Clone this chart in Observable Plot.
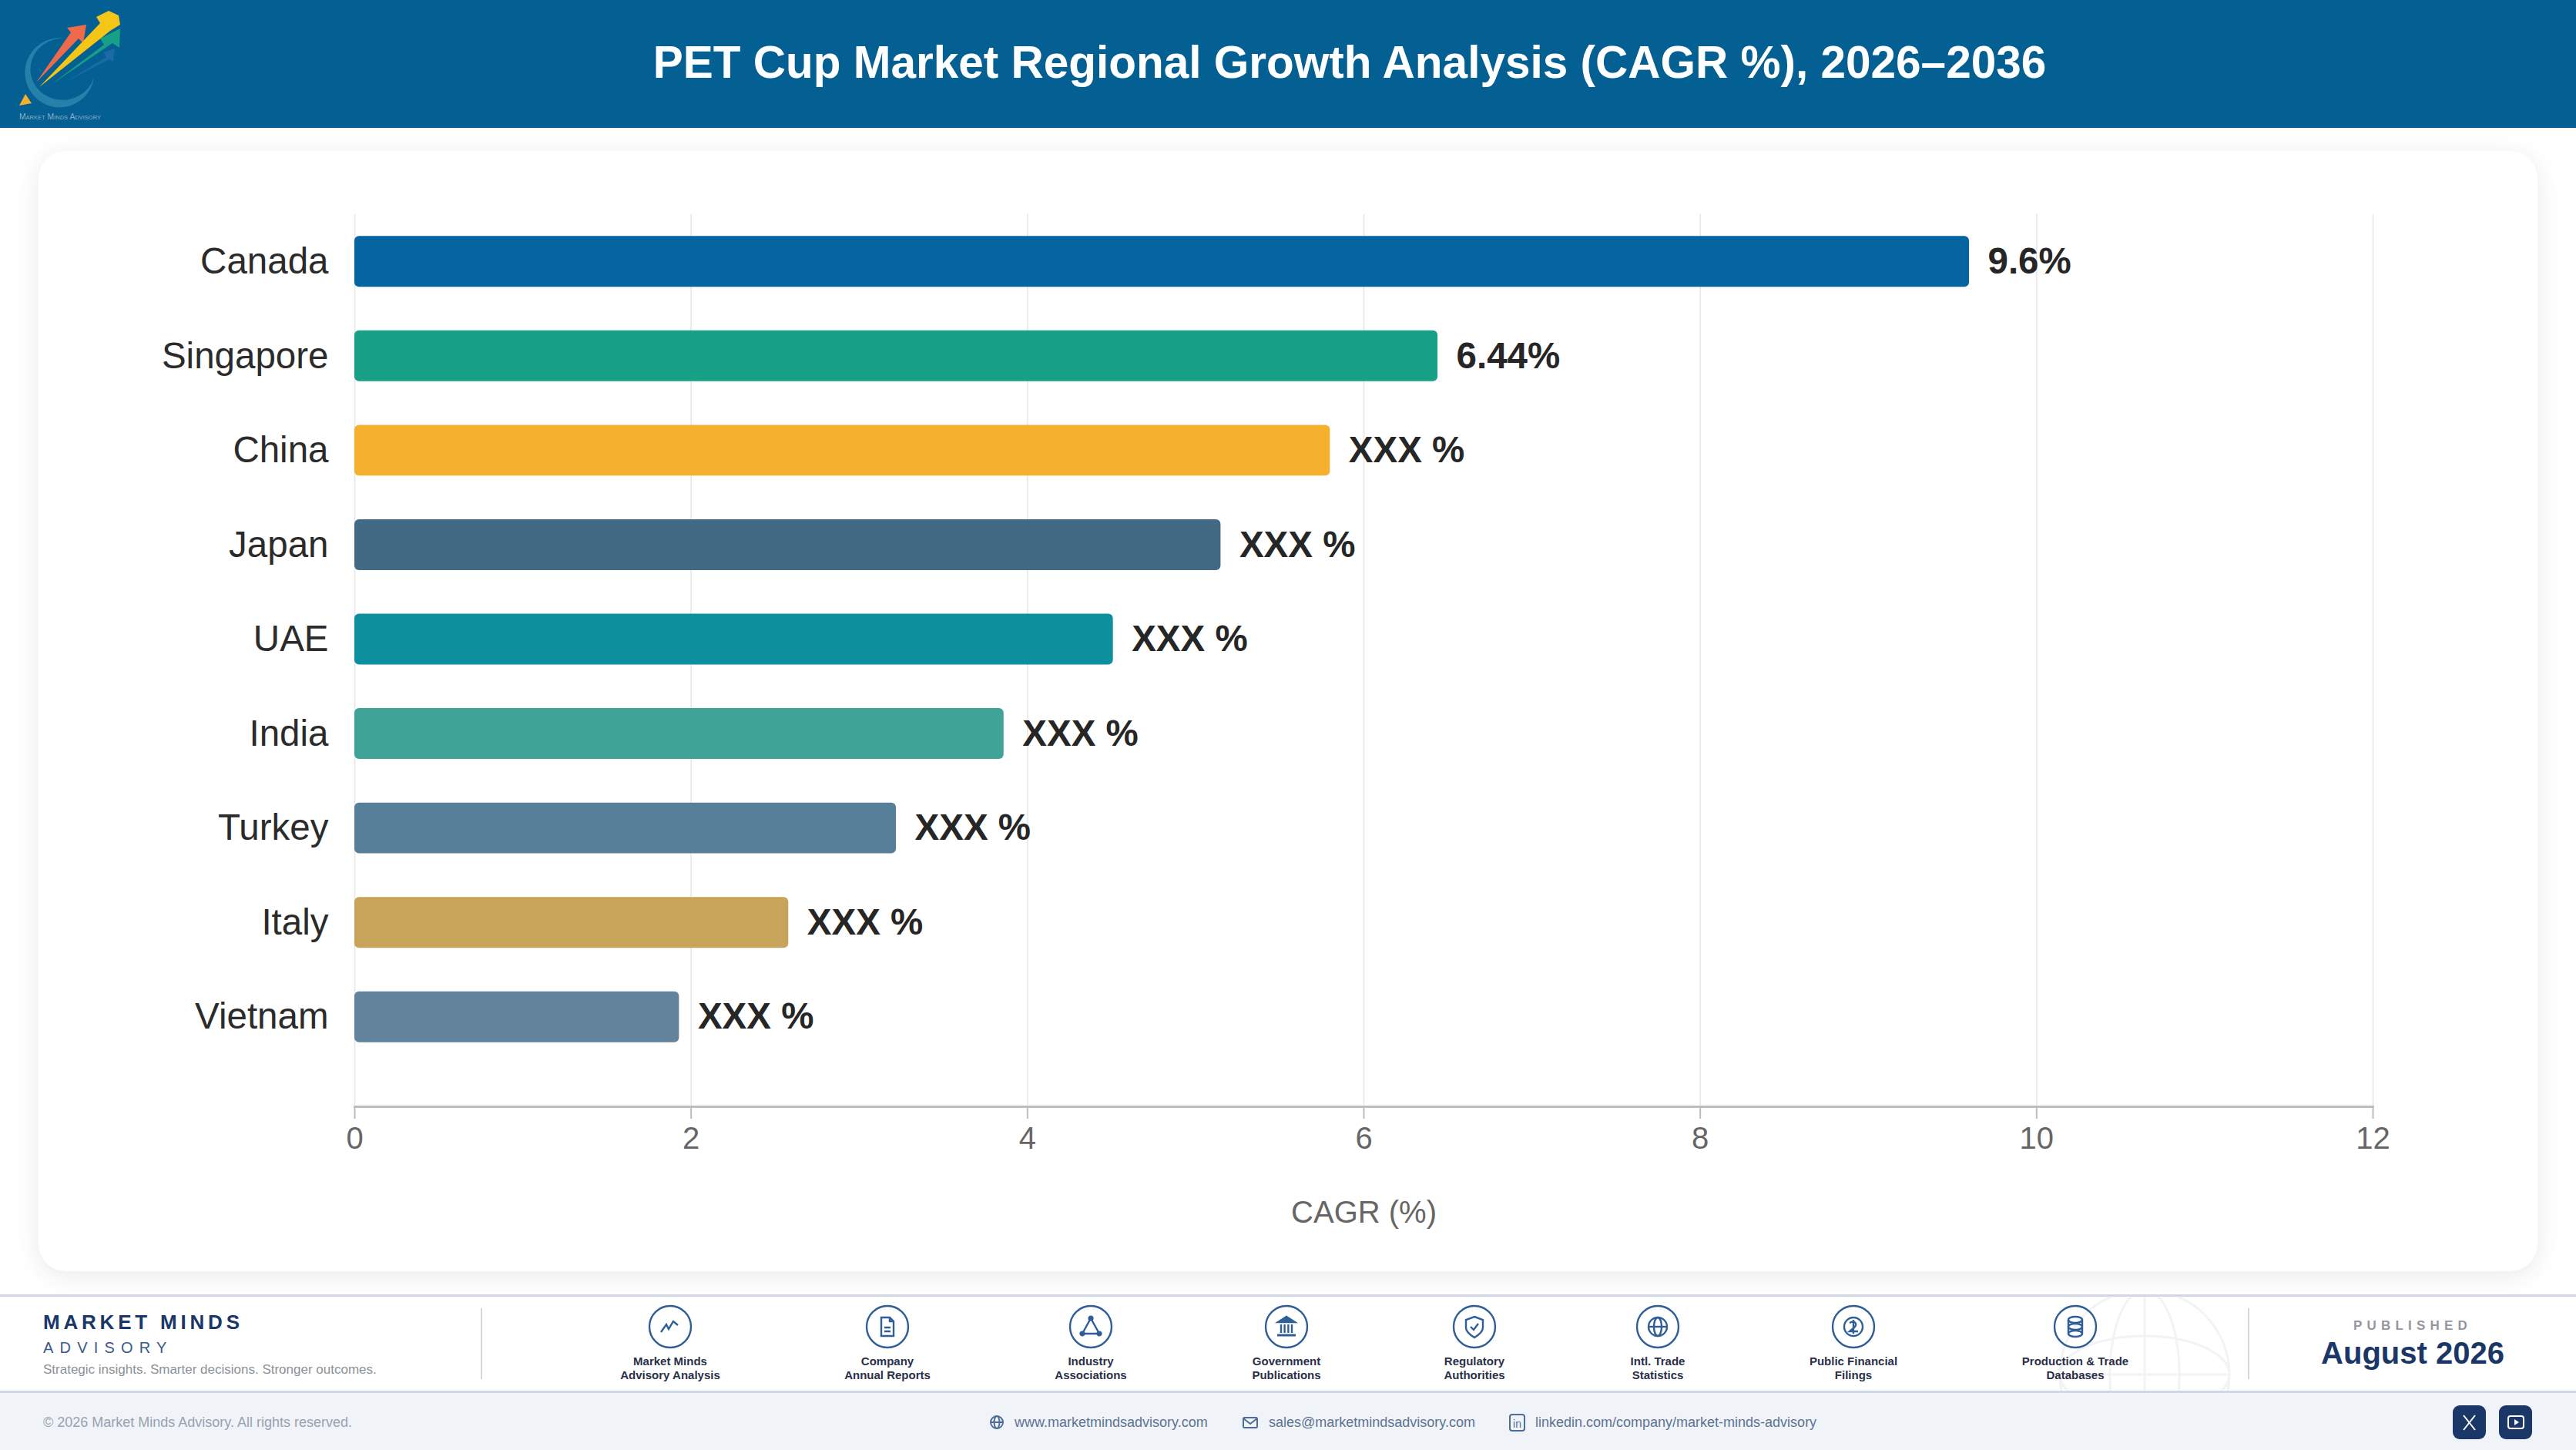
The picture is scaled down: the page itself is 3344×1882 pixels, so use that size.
<!DOCTYPE html>
<html lang="en">
<head>
<meta charset="utf-8">
<title>PET Cup Market Regional Growth Analysis</title>
<script src="https://cdn.jsdelivr.net/npm/d3@7"></script>
<script src="https://cdn.jsdelivr.net/npm/@observablehq/plot@0.6"></script>
<style>
  html, body { margin: 0; padding: 0; background: #fff; }
  body { font-family: "Liberation Sans", Arial, sans-serif; }
  #page { position: relative; width: 3344px; height: 1882px; overflow: hidden; background: #fff; }
  #page > * { position: absolute; }
  .t { white-space: nowrap; line-height: 1; }
  #header { left: 0; top: 0; width: 3344px; height: 166px; background: #045f92; }
  #logo { left: 0; top: 0; }
  #title { left: 1752px; top: 81px; transform: translate(-50%, -50%); color: #fff; font-weight: 700; font-size: 58.5px; }
  #card { left: 50px; top: 196px; width: 3244px; height: 1454px; background: #fff; border-radius: 36px; box-shadow: 0 6px 30px rgba(40,50,60,.10); }
  #chart { left: 50px; top: 196px; }
  #band { left: 0; top: 1680px; width: 3344px; height: 128px; background: #fff; border-top: 3px solid #d3d7e4; border-bottom: 3px solid #d0d8e6; box-sizing: border-box; }
  #strip { left: 0; top: 1808px; width: 3344px; height: 74px; background: #f0f4f9; }
  #globe { left: 0; top: 1683px; }
  .div { width: 2px; top: 1698px; height: 92px; background: #d3d6dc; }
  .src { transform: translateX(-50%); top: 1758px; text-align: center; font-weight: 700; font-size: 15px; line-height: 18px; color: #2a3048; white-space: nowrap; }
  .ico { left: 0; top: 0; }
  .lnk { top: 1846px; transform: translateY(-50%); font-size: 18px; color: #5d7391; }
  .btn { top: 1824px; width: 43px; height: 44px; border-radius: 9px; background: #1a3768; }
</style>
</head>
<body>
<div id="page">
  <div id="header"></div>
  <svg id="logo" width="170" height="166" viewBox="0 0 170 166">
    <path d="M85 50 A45 45 0 1 0 122 100 A42 40 0 1 1 85 50 Z" fill="#2a84ad" opacity=".9"/>
    <path d="M84 107 L138 74 L134 68 L149 63 L147 80 L142 77 Z" fill="#1a6aa5"/>
    <path d="M66 110 L135 58 L130 50 L156 37 L155 62 L146 56 Z" fill="#17a085"/>
    <path d="M47 107 L92 42 L87 36 L112 32 L108 56 L102 50 Z" fill="#ee6a4a"/>
    <path d="M51 113 L130 30 L125 22 L141 14 L154 20 L156 32 L143 40 Z" fill="#f5c518"/>
    <path d="M33 122 L25 137 L41 134 Z" fill="#f5b02e"/>
    <text x="25" y="155" font-family="Liberation Sans" font-size="11" font-variant="small-caps" textLength="106" lengthAdjust="spacingAndGlyphs" fill="#8ab0c8">Market Minds Advisory</text>
  </svg>
  <div id="title" class="t">PET Cup Market Regional Growth Analysis (CAGR %), 2026–2036</div>
  <div id="card"></div>
  <div id="chart"></div>

  <div id="band"></div>
  <div id="strip"></div>
  <svg id="globe" width="3344" height="122" fill="none" stroke="#f2f3f5" stroke-width="3">
    <circle cx="2784" cy="101" r="110"/>
    <ellipse cx="2784" cy="101" rx="45" ry="110"/>
    <path d="M2784 -9 V211 M2674 101 H2894"/>
    <ellipse cx="2784" cy="101" rx="110" ry="50"/>
  </svg>

  <div class="t" style="left:56px;top:1703px;font-size:26px;font-weight:700;letter-spacing:4.8px;color:#1a3768">MARKET MINDS</div>
  <div class="t" style="left:56px;top:1739px;font-size:20px;letter-spacing:8.2px;color:#3b5a8a">ADVISORY</div>
  <div class="t" style="left:56px;top:1769px;font-size:17px;color:#8b9199">Strategic insights. Smarter decisions. Stronger outcomes.</div>
  <div class="div" style="left:624px"></div>
  <div class="div" style="left:2918px"></div>
  <div class="t" style="left:3132px;top:1712px;transform:translateX(-50%);font-size:17px;font-weight:700;letter-spacing:6.2px;color:#94979f">PUBLISHED</div>
  <div class="t" style="left:3132px;top:1736px;transform:translateX(-50%);font-size:40px;font-weight:700;color:#1a3768">August 2026</div>

  <div class="t" style="left:56px;top:1846px;transform:translateY(-50%);font-size:18px;color:#98a2b0">© 2026 Market Minds Advisory. All rights reserved.</div>
  <svg class="ico" width="3344" height="1882" fill="none" stroke="#4f6d94" stroke-width="2" style="pointer-events:none">
    <circle cx="1294" cy="1846" r="8"/><ellipse cx="1294" cy="1846" rx="3.5" ry="8"/><path d="M1286 1846 H1302"/>
    <rect x="1614" y="1840" width="18" height="13" rx="1.5"/><path d="M1614 1841 L1623 1848 L1632 1841"/>
    <rect x="1960" y="1836" width="19" height="21" rx="3"/>
    <text x="1969.5" y="1853" text-anchor="middle" font-family="Liberation Sans" font-size="14" fill="#4f6d94" stroke="none">in</text>
  </svg>
  <div class="t lnk" style="left:1317px">www.marketmindsadvisory.com</div>
  <div class="t lnk" style="left:1647px">sales@marketmindsadvisory.com</div>
  <div class="t lnk" style="left:1993px">linkedin.com/company/market-minds-advisory</div>
  <div class="btn" style="left:3184px"></div>
  <div class="btn" style="left:3244px"></div>
  <svg class="ico" width="3344" height="1882" fill="none" stroke="#fff" stroke-width="2" style="pointer-events:none">
    <path d="M3198 1837 L3213 1856 M3213 1837 L3198 1856"/>
    <rect x="3256" y="1838" width="20" height="16" rx="3"/><path d="M3264 1842 L3270 1846 L3264 1850 Z" fill="#fff" stroke="none"/>
  </svg>
</div>

<script>
// --- chart values ---
const regions = ["Canada", "Singapore", "China", "Japan", "UAE", "India", "Turkey", "Italy", "Vietnam"];
const cagr = [9.6, 6.44, 5.8, 5.15, 4.51, 3.86, 3.22, 2.58, 1.93];
const valueLabels = ["9.6%", "6.44%", "XXX %", "XXX %", "XXX %", "XXX %", "XXX %", "XXX %", "XXX %"];
const barColors = ["#0565a0", "#17a085", "#f5b02e", "#436a85", "#0d8f9e", "#3fa398", "#577f99", "#c8a45a", "#62839b"];
const xTicks = [0, 2, 4, 6, 8, 10, 12];

// --- footer content ---
const sourceLabels = [
  ["Market Minds", "Advisory Analysis"], ["Company", "Annual Reports"], ["Industry", "Associations"],
  ["Government", "Publications"], ["Regulatory", "Authorities"], ["Intl. Trade", "Statistics"],
  ["Public Financial", "Filings"], ["Production & Trade", "Databases"]
];
const sourceCenters = [870, 1152, 1416, 1670, 1914, 2152, 2406, 2694];
const sourceGlyphs = [
  '<path d="M-12 7 L-5 -3 L-2 3 L4 -7 L10 -2"/>',
  '<path d="M-8 -12 H3 L8 -7 V12 H-8 Z M3 -12 V-7 H8 M-4 1 H4 M-4 6 H4"/>',
  '<path d="M0 -11 L11 9 H-11 Z"/><circle cx="0" cy="-11" r="2.4" fill="#2f5f96"/><circle cx="-11" cy="9" r="2.4" fill="#2f5f96"/><circle cx="11" cy="9" r="2.4" fill="#2f5f96"/>',
  '<path d="M-11 -6 L0 -13 L11 -6 Z" fill="#2f5f96"/><path d="M-7 -3 V8 M-2.4 -3 V8 M2.4 -3 V8 M7 -3 V8"/><path d="M-12 11 H12" stroke-width="3"/>',
  '<path d="M0 -13 L11 -9 V1 C11 7 5 11 0 14 C-5 11 -11 7 -11 1 V-9 Z M-5 0 L-1 4 L5 -4"/>',
  '<circle cx="0" cy="0" r="12"/><ellipse cx="0" cy="0" rx="5" ry="12"/><path d="M-12 0 H12"/>',
  '<circle cx="0" cy="0" r="12"/><path d="M-5 -5 C2 -9 6 -3 1 1 L-5 6 H6 M0 -9 V9"/>',
  '<ellipse cx="0" cy="-9" rx="9" ry="4"/><ellipse cx="0" cy="0" rx="9" ry="4"/><ellipse cx="0" cy="9" rx="9" ry="4"/><path d="M-9 -9 V9 M9 -9 V9"/>'
];

// --- the chart ---
const rows = regions.map((region, i) => ({region, value: cagr[i], label: valueLabels[i], color: barColors[i]}));
const font = '"Liberation Sans", Arial, sans-serif';

const chart = Plot.plot({
  width: 3244,
  height: 1454,
  marginLeft: 410,
  marginRight: 214,
  marginTop: 82,
  marginBottom: 214,
  style: {fontFamily: font, background: "transparent", overflow: "visible"},
  x: {domain: [0, 12], ticks: xTicks},
  y: {domain: regions, paddingInner: 0.462, paddingOuter: 0.231, insetBottom: 55, round: false},
  marks: [
    Plot.gridX(xTicks, {stroke: "#e6e6e8", strokeOpacity: 1, strokeWidth: 1.5}),
    Plot.frame({anchor: "bottom", stroke: "#bdbdbd", strokeWidth: 3}),
    Plot.axisX(xTicks, {
      tickSize: 16, tickPadding: 10, fontSize: 40, stroke: "#bdbdbd", strokeWidth: 2, fill: "#666",
      tickFormat: "d",
      label: "CAGR (%)", labelAnchor: "center", labelArrow: "none", labelOffset: 150
    }),
    Plot.axisY({tickSize: 0, tickPadding: 34, fontSize: 47.5, fill: "#2b2b2b", label: null}),
    Plot.barX(rows, {x: "value", y: "region", fill: "color", rx: 6}),
    Plot.text(rows, {x: "value", y: "region", text: "label", textAnchor: "start", dx: 24, fontSize: 47.5, fontWeight: 700, fill: "#262626"})
  ]
});
document.getElementById("chart").append(chart);

// --- source badges ---
const page = document.getElementById("page");
const NS = "http://www.w3.org/2000/svg";
const iconLayer = document.createElementNS(NS, "svg");
iconLayer.setAttribute("class", "ico");
iconLayer.setAttribute("width", 3344);
iconLayer.setAttribute("height", 1882);
iconLayer.setAttribute("fill", "none");
iconLayer.setAttribute("stroke", "#2f5f96");
iconLayer.setAttribute("stroke-width", 2.4);
iconLayer.innerHTML = sourceCenters.map((cx, i) =>
  `<g transform="translate(${cx},1722)"><circle r="27"/>${sourceGlyphs[i]}</g>`).join("");
page.append(iconLayer);
sourceLabels.forEach((lines, i) => {
  const d = document.createElement("div");
  d.className = "src";
  d.style.left = sourceCenters[i] + "px";
  d.innerHTML = lines.map(l => l.replace("&", "&amp;")).join("<br>");
  page.append(d);
});
</script>
</body>
</html>
